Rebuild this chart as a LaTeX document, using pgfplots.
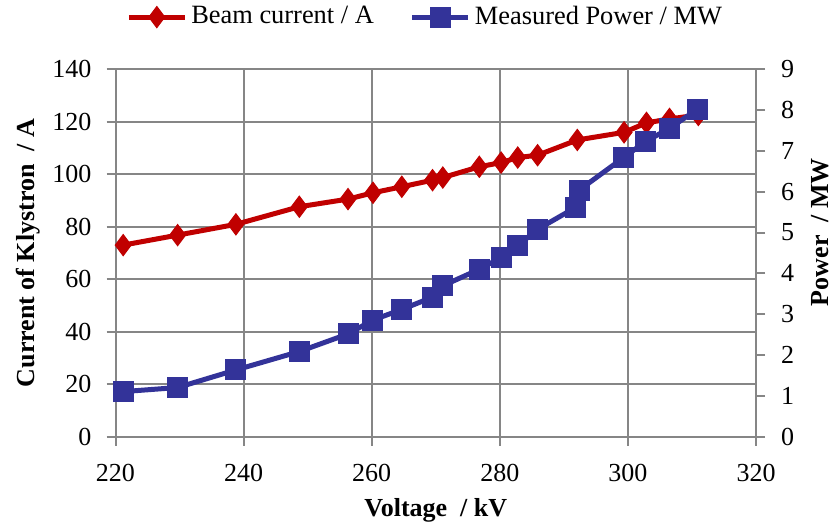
\documentclass[border=0pt]{standalone}
\usepackage{fontspec}
\setmainfont{Liberation Serif}
\usepackage{pgfplots}
\pgfplotsset{compat=1.18}
\definecolor{myred}{HTML}{C00000}
\definecolor{myblue}{HTML}{333399}
\definecolor{gridgray}{HTML}{868686}

\pgfplotstableread{
V I
221.2 73.0
229.7 76.8
238.8 80.9
248.7 87.6
256.3 90.5
260.2 92.9
264.7 95.2
269.5 97.7
271.1 98.7
276.8 102.8
280.2 104.4
282.8 106.3
285.9 107.2
292.1 113.0
299.4 115.9
302.9 119.5
306.5 121.0
311.0 122.5
}\beamtable

\pgfplotstableread{
V P
221.2 1.11
229.7 1.21
238.8 1.64
248.7 2.09
256.3 2.52
260.2 2.86
264.7 3.12
269.5 3.42
271.1 3.70
276.8 4.10
280.2 4.39
282.8 4.68
285.9 5.08
291.8 5.61
292.4 6.04
299.3 6.83
302.7 7.22
306.5 7.55
310.8 8.01
}\powertable

\begin{document}
\fontsize{13}{15}\selectfont
\begin{tikzpicture}
\pgfplotsset{
  common/.style={
    scale only axis, width=320.25pt, height=184pt,
    xmin=220, xmax=320, xtick={220,240,...,320},
    /pgf/number format/assume math mode=true,
    tick label style={font=\fontsize{13}{15}\selectfont},
    axis line style={gridgray, line width=1pt, -},
    tick style={gridgray, line width=1pt},
    major tick length=4.5pt,
    tick align=outside,
    minor tick num=0,
    clip=false,
  },
  redstyle/.style={myred, line width=2.5pt, mark=diamond*, mark size=5.3pt, mark options={solid, fill=myred, draw=myred, line width=0.5pt}},
  bluestyle/.style={myblue, line width=2.5pt, mark=square*, mark size=5pt, mark options={solid, fill=myblue, draw=myblue, line width=0.5pt}},
}
\begin{axis}[common,
  axis y line*=left, axis x line*=bottom,
  ymin=0, ymax=140, ytick={0,20,...,140},
  grid=major, major grid style={gridgray, line width=1pt},
  xticklabel style={yshift=-4.5pt},
  yticklabel style={xshift=-3pt},
  every axis x label/.style={at={(axis description cs:0.5,-0.198)}, anchor=center, font=\fontsize{13}{15}\selectfont\bfseries},
  every axis y label/.style={at={(axis description cs:-0.1366,0.5)}, rotate=90, anchor=center, font=\fontsize{13}{15}\selectfont\bfseries},
  xlabel={Voltage\ \ / kV},
  ylabel={Current of Klystron\ \ / A},
]
\addplot[redstyle] table[x=V, y=I] {\beamtable};
\end{axis}
\begin{axis}[common,
  axis y line*=right, axis x line=none,
  ymin=0, ymax=9, ytick={0,1,...,9},
  yticklabel style={xshift=3.5pt},
  every axis y label/.style={at={(axis description cs:1.100,0.557)}, rotate=90, anchor=center, font=\fontsize{13}{15}\selectfont\bfseries},
  ylabel={Power\ \ / MW},
  legend columns=2,
  legend style={draw=none, fill=none, at={(axis description cs:0.485,1.141)}, anchor=center, font=\fontsize{13.2}{15}\selectfont, /tikz/every even column/.append style={column sep=16pt}},
  legend image code/.code={\draw[#1, mark repeat=2, mark phase=2] plot coordinates {(0pt,0pt) (14pt,0pt) (28pt,0pt)};},
]
\addlegendimage{redstyle}
\addlegendentry{Beam current / A}
\addplot[bluestyle] table[x=V, y=P] {\powertable};
\addlegendentry{Measured Power / MW}
\end{axis}
\pgfresetboundingbox
\useasboundingbox (-57.75pt,-42.5pt) rectangle (361.25pt,218.5pt);
\end{tikzpicture}
\end{document}
